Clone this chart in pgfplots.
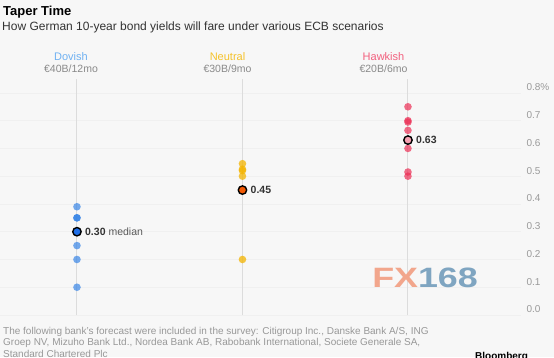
\documentclass[border=0pt]{standalone}
\usepackage{pgfplots}
\pgfplotsset{compat=1.18}
\usepackage{fontspec}
\setmainfont{Liberation Sans}
\definecolor{bg}{HTML}{F7F7F7}
\definecolor{dov}{HTML}{2A7DE6}
\definecolor{dovlab}{HTML}{6FB1F2}
\definecolor{dovmed}{HTML}{1F6FE8}
\definecolor{neu}{HTML}{F4B400}
\definecolor{neulab}{HTML}{F5C22A}
\definecolor{neumed}{HTML}{F25A05}
\definecolor{hawk}{HTML}{EC2F55}
\definecolor{hawklab}{HTML}{F2607E}
\definecolor{tick}{HTML}{9A9A9A}
\definecolor{foot}{HTML}{989898}
\definecolor{sub}{HTML}{8A8A8A}
\definecolor{vline}{HTML}{DCDCDC}
\definecolor{dark}{HTML}{333333}
\begin{document}
\begin{tikzpicture}[x=1pt,y=1pt]
\fill[bg] (0,0) rectangle (554,357);
\useasboundingbox (0,0) rectangle (554,357);
\begin{axis}[
  at={(0pt,42pt)}, anchor=south west, scale only axis,
  width=521pt, height=236pt,
  xmin=-0.465, xmax=2.683, ymin=0, ymax=0.85,
  axis line style={draw=none},
  xtick=\empty,
  ytick={0,0.1,0.2,0.3,0.4,0.5,0.6,0.7,0.8},
  yticklabels={0.0,0.1,0.2,0.3,0.4,0.5,0.6,0.7,0.8\%},
  yticklabel pos=right,
  major tick length=0pt,
  ymajorgrids,
  grid style={draw=black!6, line width=0.6pt},
  yticklabel style={anchor=west, font=\fontsize{10}{12}\selectfont, text=tick, yshift=5.5pt, xshift=2pt},
  clip=false,
]
% category lines
\addplot[draw=vline, line width=1pt] coordinates {(0,0) (0,0.85)};
\addplot[draw=vline, line width=1pt] coordinates {(1,0) (1,0.85)};
\addplot[draw=vline, line width=1pt] coordinates {(2,0) (2,0.85)};
% Dovish
\addplot[only marks, color=dov, mark=*, mark size=3.8pt, mark options={fill=dov, draw opacity=0, fill opacity=0.65}]
  coordinates {(0,0.39) (0,0.35) (0,0.35) (0,0.30) (0,0.25) (0,0.20) (0,0.10)};
\addplot[only marks, mark=*, mark size=4.2pt, mark options={fill=dovmed, draw=black, line width=1.4pt}]
  coordinates {(0,0.30)};
% Neutral
\addplot[only marks, color=neu, mark=*, mark size=3.8pt, mark options={fill=neu, draw opacity=0, fill opacity=0.75}]
  coordinates {(1,0.545) (1,0.525) (1,0.52) (1,0.50) (1,0.45) (1,0.20)};
\addplot[only marks, mark=*, mark size=4.2pt, mark options={fill=neumed, draw=black, line width=1.4pt}]
  coordinates {(1,0.45)};
% Hawkish
\addplot[only marks, color=hawk, mark=*, mark size=3.8pt, mark options={fill=hawk, draw opacity=0, fill opacity=0.7}]
  coordinates {(2,0.75) (2,0.70) (2,0.695) (2,0.665) (2,0.60) (2,0.515) (2,0.50)};
\addplot[only marks, mark=*, mark size=4.2pt, mark options={fill=hawk!45, draw=black, line width=1.4pt}]
  coordinates {(2,0.63)};
% median labels
\node[anchor=west, inner sep=0pt, xshift=8pt, font=\fontsize{10.5}{12}\selectfont] at (axis cs:0,0.30)
  {\textcolor{dark}{\textbf{0.30}} \textcolor{black!65}{median}};
\node[anchor=west, inner sep=0pt, xshift=8pt, font=\fontsize{10.5}{12}\selectfont] at (axis cs:1,0.45)
  {\textcolor{dark}{\textbf{0.45}}};
\node[anchor=west, inner sep=0pt, xshift=8pt, font=\fontsize{10.5}{12}\selectfont] at (axis cs:2,0.63)
  {\textcolor{dark}{\textbf{0.63}}};
\end{axis}
% titles
\node[anchor=base west, inner sep=0pt, font=\fontsize{13}{15}\selectfont\bfseries] at (3,341.5) {Taper Time};
\node[anchor=base west, inner sep=0pt, font=\fontsize{12}{14}\selectfont, text=dark] at (2,326.4)
  {How German 10-year bond yields will fare under various ECB scenarios};
% scenario headers
\node[anchor=base, inner sep=0pt, font=\fontsize{11}{13}\selectfont, text=dovlab] at (71,297) {Dovish};
\node[anchor=base, inner sep=0pt, font=\fontsize{10.5}{13}\selectfont, text=sub] at (71,284) {€40B/12mo};
\node[anchor=base, inner sep=0pt, font=\fontsize{11}{13}\selectfont, text=neulab] at (227.5,297) {Neutral};
\node[anchor=base, inner sep=0pt, font=\fontsize{10.5}{13}\selectfont, text=sub] at (227.5,284) {€30B/9mo};
\node[anchor=base, inner sep=0pt, font=\fontsize{11}{13}\selectfont, text=hawklab] at (383.5,297) {Hawkish};
\node[anchor=base, inner sep=0pt, font=\fontsize{10.5}{13}\selectfont, text=sub] at (383.5,284) {€20B/6mo};
% watermark
\node[anchor=base west, inner sep=0pt, xscale=1.28, font=\fontsize{28}{30}\selectfont\bfseries] at (372,70)
  {\textcolor[HTML]{F2A68C}{FX}\textcolor[HTML]{7FA5C1}{168}};
% footnote
\node[anchor=base west, inner sep=0pt, font=\fontsize{10}{11.7}\selectfont, text=foot] at (3,23)
  {The following bank's forecast were included in the survey: Citigroup Inc., Danske Bank A/S, ING};
\node[anchor=base west, inner sep=0pt, font=\fontsize{10}{11.7}\selectfont, text=foot] at (3,11.3)
  {Groep NV, Mizuho Bank Ltd., Nordea Bank AB, Rabobank International, Societe Generale SA,};
\node[anchor=base west, inner sep=0pt, font=\fontsize{10}{11.7}\selectfont, text=foot] at (3,-0.5)
  {Standard Chartered Plc};
\node[anchor=base west, inner sep=0pt, font=\fontsize{10}{12}\selectfont\bfseries] at (475,-2.5) {Bloomberg};
\end{tikzpicture}
\end{document}
